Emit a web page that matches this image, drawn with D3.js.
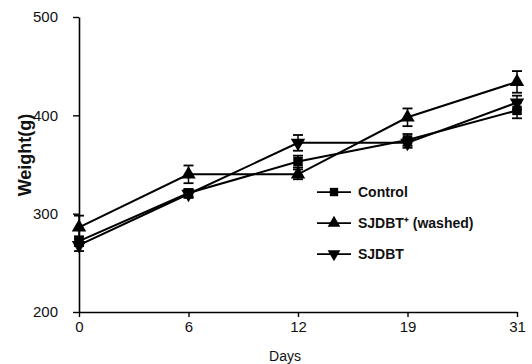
<!DOCTYPE html>
<html>
<head>
<meta charset="utf-8">
<script src="https://cdn.jsdelivr.net/npm/d3@7"></script>
<style>
  body { margin: 0; background: #fff; }
  svg { display: block; font-family: "Liberation Sans", Arial, sans-serif; }
</style>
</head>
<body>
<div id="chart"></div>
<script>
// data
var days = ["0", "6", "12", "19", "31"]
var yTicks = [200, 300, 400, 500]

var control = [272, 321, 353, 375, 405]
var controlErr = [5, 4, 6, 6, 8]

var washed = [286, 340, 340, 398, 434]
var washedErr = [12, 9, 5, 9, 11]

var sjdbt = [268, 320, 372, 372, 413]
var sjdbtErr = [6, 4, 8, 5, 7]

var seriesNames = ["Control", "SJDBT\u207A (washed)", "SJDBT"]

var width = 532, height = 364
var margin = { top: 17, right: 15, bottom: 52, left: 79 }

var svg = d3.select("#chart")
    .append("svg")
    .attr("width", width)
    .attr("height", height)

var x = d3.scalePoint()
    .domain(days)
    .range([margin.left, width - margin.right])

var y = d3.scaleLinear()
    .domain([200, 500])
    .range([height - margin.bottom, margin.top])

// axes
var yAxis = svg.append("g")
    .attr("transform", "translate(" + margin.left + ",0)")
    .call(d3.axisLeft(y).tickValues(yTicks).tickSize(6).tickPadding(15).tickSizeOuter(0))
yAxis.selectAll("text").attr("font-size", 15).attr("fill", "#111")

var xAxis = svg.append("g")
    .attr("transform", "translate(0," + y(200) + ")")
    .call(d3.axisBottom(x).tickSize(5).tickPadding(4).tickSizeOuter(0))
xAxis.selectAll("text").attr("font-size", 15).attr("fill", "#111")

svg.selectAll(".domain").attr("stroke", "#000").attr("stroke-width", 1.6)
svg.selectAll(".tick line").attr("stroke", "#000").attr("stroke-width", 1.4)

// axis titles
svg.append("text")
    .attr("transform", "translate(25,155) rotate(-90)")
    .attr("dy", "0.35em")
    .attr("text-anchor", "middle")
    .attr("font-size", 18)
    .attr("font-weight", "bold")
    .attr("fill", "#111")
    .text("Weight(g)")

svg.append("text")
    .attr("x", (margin.left + width - margin.right) / 2 - 13)
    .attr("y", height - 3)
    .attr("text-anchor", "middle")
    .attr("font-size", 14)
    .attr("fill", "#111")
    .text("Days")

var series = [
    { name: seriesNames[0], values: control, err: controlErr, symbol: d3.symbolSquare, rot: 0 },
    { name: seriesNames[1], values: washed, err: washedErr, symbol: d3.symbolTriangle, rot: 0 },
    { name: seriesNames[2], values: sjdbt, err: sjdbtErr, symbol: d3.symbolTriangle, rot: 180 }
]

var line = d3.line()
    .x(function (d, i) { return x(days[i]) })
    .y(function (d) { return y(d) })

series.forEach(function (s) {
    var g = svg.append("g")

    // error bars
    s.values.forEach(function (v, i) {
        var cx = x(days[i])
        g.append("line")
            .attr("x1", cx).attr("x2", cx)
            .attr("y1", y(v - s.err[i])).attr("y2", y(v + s.err[i]))
            .attr("stroke", "#000").attr("stroke-width", 1.5)
        ;[v - s.err[i], v + s.err[i]].forEach(function (e) {
            g.append("line")
                .attr("x1", cx - 5).attr("x2", cx + 5)
                .attr("y1", y(e)).attr("y2", y(e))
                .attr("stroke", "#000").attr("stroke-width", 1.8)
        })
    })

    g.append("path")
        .datum(s.values)
        .attr("d", line)
        .attr("fill", "none")
        .attr("stroke", "#000")
        .attr("stroke-width", 2)

    g.selectAll(".pt")
        .data(s.values)
        .enter().append("path")
        .attr("d", d3.symbol().type(s.symbol).size(90))
        .attr("transform", function (d, i) {
            return "translate(" + x(days[i]) + "," + y(d) + ") rotate(" + s.rot + ")"
        })
        .attr("fill", "#000")
})

// legend
var legend = svg.append("g")
    .attr("transform", "translate(" + (x("12") + 19) + "," + y(322) + ")")

series.forEach(function (s, i) {
    var row = legend.append("g")
        .attr("transform", "translate(0," + (i * 31) + ")")
    row.append("line")
        .attr("x1", 0).attr("x2", 34)
        .attr("stroke", "#000").attr("stroke-width", 1.8)
    row.append("path")
        .attr("d", d3.symbol().type(s.symbol).size(70))
        .attr("transform", "translate(17,0) rotate(" + s.rot + ")")
        .attr("fill", "#000")
    row.append("text")
        .attr("x", 41)
        .attr("dy", "0.35em")
        .attr("font-size", 14)
        .attr("font-weight", "bold")
        .attr("fill", "#111")
        .text(s.name)
})
</script>
</body>
</html>
